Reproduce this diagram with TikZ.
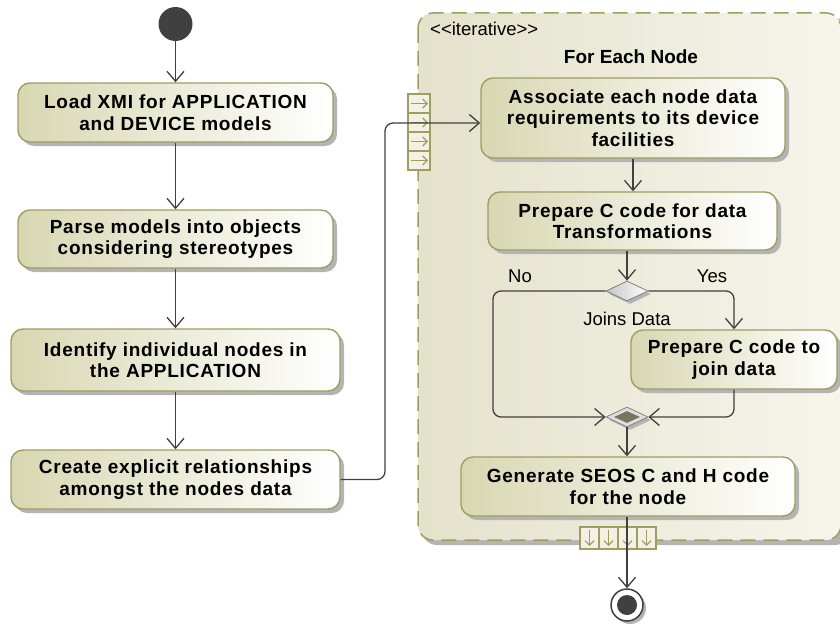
\documentclass[tikz,border=0pt]{standalone}
\usepackage{fontspec}
\setmainfont{Liberation Sans}
\newfontfamily\boxfont[LetterSpace=4]{Liberation Sans}
\usetikzlibrary{arrows.meta,shapes.geometric,shadows}
\definecolor{olv}{HTML}{9E9D62}
\definecolor{boxl}{HTML}{D8D7B2}
\definecolor{regl}{HTML}{E4E2CB}
\definecolor{regr}{HTML}{F5F5EC}
\definecolor{ln}{HTML}{404040}
\definecolor{shd}{HTML}{B4B4B4}
\definecolor{pinf}{HTML}{F2F1E4}
\definecolor{mrgc}{HTML}{76765F}
\begin{document}
\begin{tikzpicture}[x=1pt,y=-1pt,
 act/.style={draw=olv, line width=1.4pt, rounded corners=12pt, left color=boxl, right color=white,
   drop shadow={shadow xshift=4pt, shadow yshift=-4pt, fill=shd, opacity=1},
   align=center, font=\boxfont\fontsize{19}{21.5}\selectfont\bfseries, inner sep=0pt},
 flow/.style={draw=ln, line width=1.3pt, -{Straight Barb[length=10pt,width=17pt,line width=1.3pt]}},
 pinarr/.style={draw=olv, line width=1.2pt, -{Straight Barb[length=4.5pt,width=9pt]}},
 lbl/.style={font=\fontsize{18.5}{21}\selectfont, inner sep=0pt}]
\useasboundingbox (0,0) rectangle (840,626);
% expansion region
\fill[shd, rounded corners=15pt] (422,18) rectangle (850,545);
\shade[left color=regl, right color=regr, rounded corners=15pt] (418,13) rectangle (841,540);
\draw[olv, line width=1.5pt, dash pattern=on 15pt off 8pt, rounded corners=15pt] (418,13) rectangle (841,540);
\node[lbl, anchor=west] (it) at (430,29) {<{}<iterative>{}>};
\node[font=\fontsize{19}{22}\selectfont\bfseries, inner sep=0pt] (fen) at (631,57) {For Each Node};
% input pins
\foreach \i in {0,...,3}{
  \draw[olv, line width=1.1pt, fill=pinf] (408,{94+19*\i}) rectangle (430,{113+19*\i});
  \draw[pinarr] (411,{103.5+19*\i}) -- (428,{103.5+19*\i});
}
% output pins
\foreach \i in {0,...,3}{
  \draw[olv, line width=1.1pt, fill=pinf] ({580+19*\i},527) rectangle ({599+19*\i},549);
  \draw[pinarr] ({589.5+19*\i},530) -- ({589.5+19*\i},546);
}
% left column
\node[circle, fill=ln, minimum size=34pt, inner sep=0pt] (init) at (175.5,24) {};
\node[act, minimum width=315pt, minimum height=59pt] (b1) at (175.5,112.5) {Load XMI for APPLICATION\\and DEVICE models};
\node[act, minimum width=315pt, minimum height=58pt] (b2) at (175.5,239) {Parse models into objects\\considering stereotypes};
\node[act, minimum width=329pt, minimum height=62pt] (b3) at (175.5,360) {Identify individual nodes in\\the APPLICATION};
\node[act, minimum width=329pt, minimum height=59pt] (b4) at (175.5,479.5) {Create explicit relationships\\amongst the nodes data};
% region content
\node[act, minimum width=304pt, minimum height=80pt] (A) at (633,118) {Associate each node data\\requirements to its device\\facilities};
\node[act, minimum width=289pt, minimum height=58pt] (B) at (632.5,221) {Prepare C code for data\\Transformations};
\node[diamond, draw=gray, line width=0.8pt, left color=gray!45, right color=white, minimum width=42pt, minimum height=20pt, inner sep=0pt,
  drop shadow={shadow xshift=3pt, shadow yshift=-3pt, fill=shd, opacity=1}] (dec) at (627,291) {};
\node[lbl] (no) at (520,276) {No};
\node[lbl] (yes) at (712,276) {Yes};
\node[lbl] (jd) at (627,319) {Joins Data};
\node[act, minimum width=206pt, minimum height=59pt] (C) at (734,359.5) {Prepare C code to\\join data};
\node[diamond, draw=gray, line width=0.8pt, fill=gray!25, minimum width=42pt, minimum height=20pt, inner sep=0pt,
  drop shadow={shadow xshift=3pt, shadow yshift=-3pt, fill=shd, opacity=1}] (mrg) at (627,417) {};
\node[diamond, fill=mrgc, minimum width=26pt, minimum height=12pt, inner sep=0pt] (mrgin) at (mrg) {};
\node[act, minimum width=334pt, minimum height=59pt] (D) at (628,486.5) {Generate SEOS C and H code\\for the node};
\node[circle, draw=ln, fill=white, line width=1.5pt, minimum size=32pt, inner sep=0pt,
  drop shadow={shadow xshift=3pt, shadow yshift=-3pt, fill=shd, opacity=1}] (fin) at (627,605) {};
\node[circle, fill=ln, minimum size=20pt, inner sep=0pt] (finin) at (fin) {};
% connectors
\draw[flow] (init) -- (b1);
\draw[flow] (b1) -- (b2);
\draw[flow] (b2) -- (b3);
\draw[flow] (b3) -- (b4);
\draw[flow, rounded corners=8pt] (b4.east) -- (385,479.5) -- (385,123) -- ([yshift=-5pt]A.west);
\draw[flow] (A.south) -- (A.south |- B.north);
\draw[flow] (B.south -| dec.north) -- (dec.north);
\draw[flow, rounded corners=8pt] (dec.west) -- (493,291) -- (493,417) -- (mrg.west);
\draw[flow, rounded corners=8pt] (dec.east) -| (C.north);
\draw[flow, rounded corners=8pt] (C.south) |- (mrg.east);
\draw[flow] (mrg.south) -- (mrg.south |- D.north);
\draw[flow] (fin.north |- D.south) -- (fin.north);
\end{tikzpicture}
\end{document}
